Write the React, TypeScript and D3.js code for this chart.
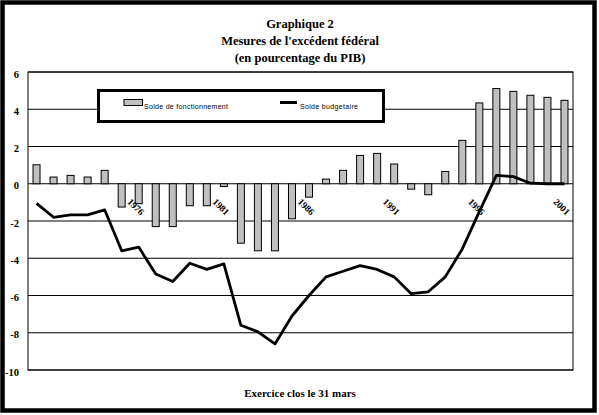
import React from "react";
import * as d3 from "d3";

// categories (exercice clos le 31 mars)
const years = [
  "1970", "1971", "1972", "1973", "1974", "1975", "1976", "1977",
  "1978", "1979", "1980", "1981", "1982", "1983", "1984", "1985",
  "1986", "1987", "1988", "1989", "1990", "1991", "1992", "1993",
  "1994", "1995", "1996", "1997", "1998", "1999", "2000", "2001",
];

// Solde de fonctionnement (bars), % du PIB
const fonctionnement = [
  1.02, 0.36, 0.45, 0.36, 0.72, -1.25, -1.07, -2.3,
  -2.3, -1.18, -1.18, -0.15, -3.19, -3.6, -3.6, -1.88,
  -0.72, 0.25, 0.72, 1.52, 1.63, 1.06, -0.29, -0.59,
  0.66, 2.33, 4.34, 5.11, 4.96, 4.75, 4.64, 4.48,
];

// Solde budgetaire (line), % du PIB
const budgetaire = [
  -1.05, -1.8, -1.67, -1.67, -1.4, -3.6, -3.4, -4.85,
  -5.25, -4.27, -4.6, -4.3, -7.6, -7.95, -8.6, -7.1,
  -6.0, -5.0, -4.7, -4.4, -4.6, -5.0, -5.9, -5.8,
  -5.0, -3.5, -1.5, 0.45, 0.38, 0.03, 0, 0,
];

const yTicks = [6, 4, 2, 0, -2, -4, -6, -8, -10];
const xLabels = ["1976", "1981", "1986", "1991", "1996", "2001"];
const titleLines = [
  "Graphique 2",
  "Mesures de l'excédent fédéral",
  "(en pourcentage du PIB)",
];

const W = 599;
const H = 415;
const plot = { left: 28, right: 573, top: 72, bottom: 370 };
const serif = "'Liberation Serif', 'Times New Roman', serif";
const sans = "'Liberation Sans', Arial, sans-serif";

export default function App() {
  const x = d3.scaleBand<string>().domain(years).range([plot.left, plot.right]).padding(0);
  const y = d3.scaleLinear().domain([-10, 6]).range([plot.bottom, plot.top]);
  const cx = (yr: string) => (x(yr) ?? 0) + x.bandwidth() / 2;
  const barW = 7;

  const line = d3
    .line<number>()
    .x((_, i) => cx(years[i]))
    .y((d) => y(d));

  return (
    <svg
      width={W}
      height={H}
      style={{ position: "absolute", left: 0, top: 0, background: "#fff" }}
    >
      <rect x={0} y={0} width={W} height={H} fill="#fff" />
      <rect x={2.5} y={2.5} width={592} height={408} fill="none" stroke="#000" strokeWidth={4.5} />

      {/* title */}
      {titleLines.map((t, i) => (
        <text
          key={t}
          x={300}
          y={28 + i * 17}
          textAnchor="middle"
          fontFamily={serif}
          fontWeight="bold"
          fontSize={12.5}
        >
          {t}
        </text>
      ))}

      {/* grid */}
      {yTicks.map((v) => (
        <line key={v} x1={plot.left} x2={plot.right} y1={y(v)} y2={y(v)} stroke="#000" strokeWidth={1} />
      ))}
      <rect
        x={plot.left}
        y={plot.top}
        width={plot.right - plot.left}
        height={plot.bottom - plot.top}
        fill="none"
        stroke="#000"
        strokeWidth={1}
      />
      {yTicks.map((v) => (
        <text
          key={"l" + v}
          x={19}
          y={y(v) + 5.5}
          textAnchor="end"
          fontFamily={serif}
          fontWeight="bold"
          fontSize={10.5}
        >
          {v}
        </text>
      ))}

      {/* bars */}
      {fonctionnement.map((v, i) => (
        <rect
          key={years[i]}
          x={cx(years[i]) - barW / 2}
          y={Math.min(y(v), y(0))}
          width={barW}
          height={Math.abs(y(v) - y(0))}
          fill="#c0c0c0"
          stroke="#000"
          strokeWidth={1}
        />
      ))}

      {/* x labels */}
      {xLabels.map((yr) => {
        const px = cx(yr) - 3;
        const py = 207;
        return (
          <text
            key={yr}
            x={px}
            y={py + 3}
            textAnchor="middle"
            transform={`rotate(45, ${px}, ${py})`}
            fontFamily={serif}
            fontWeight="bold"
            fontSize={9.5}
          >
            {yr}
          </text>
        );
      })}

      {/* line */}
      <path d={line(budgetaire) ?? ""} fill="none" stroke="#000" strokeWidth={2.8} strokeLinejoin="round" />

      {/* legend */}
      <rect x={98.5} y={90.5} width={285} height={31} fill="#fff" stroke="#000" strokeWidth={3} />
      <rect x={124} y={99.5} width={18.5} height={6} fill="#c0c0c0" stroke="#000" strokeWidth={1} />
      <text x={144} y={109} fontFamily={sans} fontSize={7} textLength={84}>
        Solde de fonctionnement
      </text>
      <line x1={280} x2={297} y1={102.5} y2={102.5} stroke="#000" strokeWidth={3} />
      <text x={300} y={109} fontFamily={sans} fontSize={7} textLength={58}>
        Solde budgetaire
      </text>

      {/* x axis title */}
      <text x={300} y={397} textAnchor="middle" fontFamily={serif} fontWeight="bold" fontSize={11}>
        Exercice clos le 31 mars
      </text>
    </svg>
  );
}
